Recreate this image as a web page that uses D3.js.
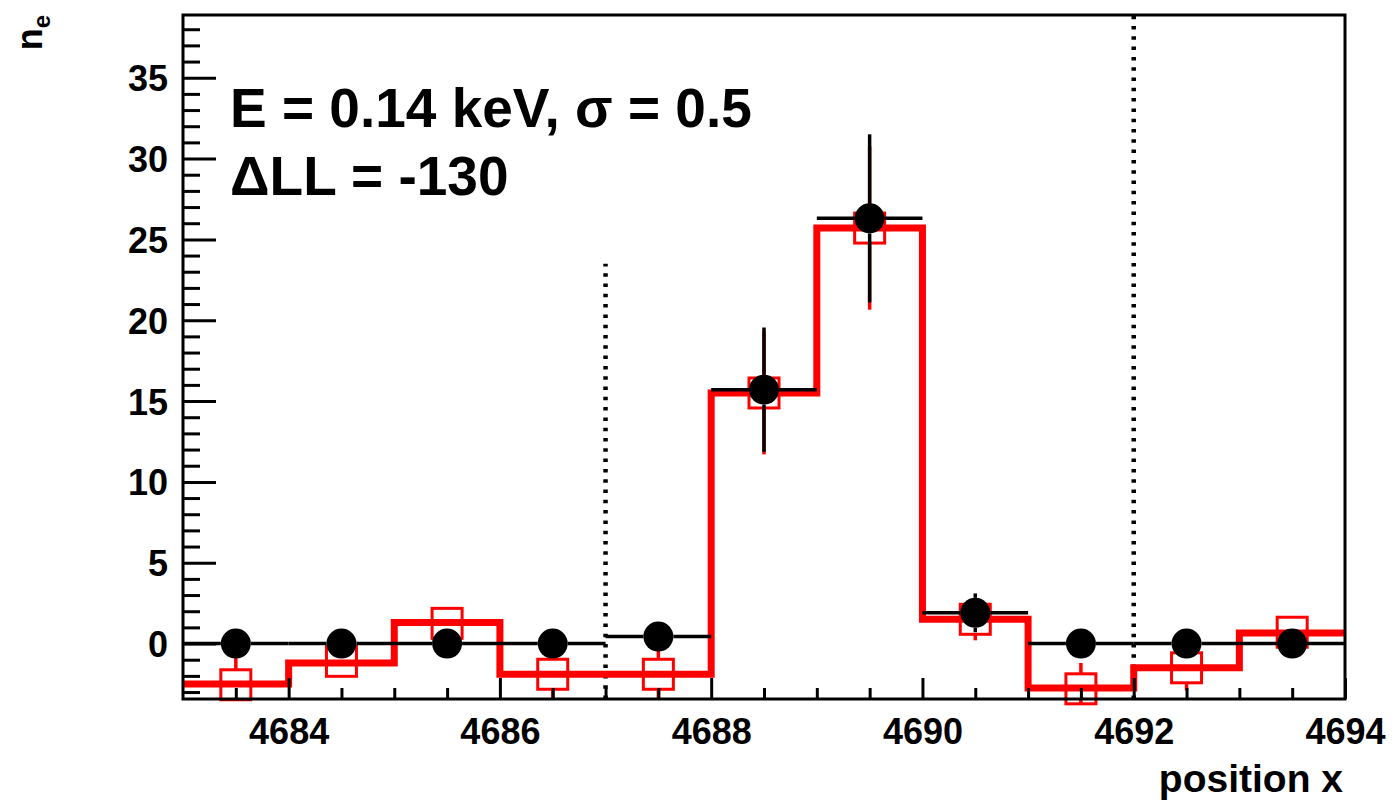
<!DOCTYPE html>
<html>
<head>
<meta charset="utf-8">
<script src="https://cdn.jsdelivr.net/npm/d3@7"></script>
<style>
  html, body { margin: 0; padding: 0; background: #fff; }
  svg { display: block; }
  text { font-family: "Liberation Sans", Arial, Helvetica, sans-serif; font-weight: bold; fill: #000; }
</style>
</head>
<body>
<svg id="chart" width="1394" height="802"></svg>
<script>
// ---------- data ----------
const binStart     = [4683, 4684, 4685, 4686, 4687, 4688, 4689, 4690, 4691, 4692, 4693];
const binWidth     = 1;
const dataValues   = [0, 0, 0, 0, 0.43, 15.7, 26.3, 1.9, 0, 0, 0];
const dataErrors   = [0, 0, 0, 0, 0, 3.85, 5.2, 1.2, 0, 0, 0];
const modelHist    = [-2.5, -1.2, 1.3, -1.9, -1.9, 15.5, 25.7, 1.5, -2.75, -1.5, 0.65];
const modelPoints  = [-2.55, -1.1, 1.25, -1.9, -1.9, 15.5, 25.7, 1.5, -2.8, -1.5, 0.7];
const modelErrors  = [1.65, 0.9, 0.9, 1.6, 1.6, 3.8, 5.05, 1.3, 1.6, 1.4, 0.9];
const xMajorTicks  = [4684, 4686, 4688, 4690, 4692, 4694];
const yMajorTicks  = [0, 5, 10, 15, 20, 25, 30, 35];
const dottedX      = [4687, 4692];
const dottedTop    = [23.5, 38.88];
const xDomain      = [4683, 4694];
const yDomain      = [-3.43, 38.88];
const annotation   = ["E = 0.14 keV, σ = 0.5", "ΔLL = -130"];

// ---------- layout ----------
const L = 183, T = 15, R = 1345, B = 699;
const svg = d3.select("#chart");
svg.append("rect").attr("width", 1394).attr("height", 802).attr("fill", "#fff");

const x = d3.scaleLinear().domain(xDomain).range([L, R]);
const y = d3.scaleLinear().domain(yDomain).range([B, T]);

svg.append("defs").append("clipPath").attr("id", "frameClip")
  .append("rect").attr("x", L).attr("y", T).attr("width", R - L).attr("height", B - T);

const plot = svg.append("g");

// ---------- dotted vertical lines ----------
plot.selectAll("line.dot").data(dottedX).join("line")
  .attr("class", "dot")
  .attr("x1", d => x(d)).attr("x2", d => x(d))
  .attr("y1", B).attr("y2", (d, i) => y(dottedTop[i]))
  .attr("stroke", "#000").attr("stroke-width", 4.5)
  .attr("stroke-dasharray", "3.5,6.8");

// ---------- red model histogram ----------
const histPts = binStart.map((b, i) => [b, modelHist[i]]);
histPts.push([binStart[binStart.length - 1] + binWidth, modelHist[modelHist.length - 1]]);
plot.append("path")
  .attr("clip-path", "url(#frameClip)")
  .attr("d", d3.line().x(d => x(d[0])).y(d => y(d[1])).curve(d3.curveStepAfter)(histPts))
  .attr("fill", "none").attr("stroke", "#ff0000").attr("stroke-width", 7)
  .attr("stroke-linejoin", "miter");

// ---------- red open squares with error bars ----------
const sq = 30, sh = sq / 2;
const redG = plot.append("g");
binStart.forEach((b, i) => {
  const cx = x(b + binWidth / 2), cy = y(modelPoints[i]);
  const top = y(modelPoints[i] + modelErrors[i]);
  const bot = y(modelPoints[i] - modelErrors[i]);
  if (cy - sh > top) redG.append("line").attr("x1", cx).attr("x2", cx).attr("y1", cy - sh).attr("y2", Math.max(top, T))
    .attr("stroke", "#ff0000").attr("stroke-width", 3.5);
  if (bot > cy + sh) redG.append("line").attr("x1", cx).attr("x2", cx).attr("y1", cy + sh).attr("y2", Math.min(bot, B))
    .attr("stroke", "#ff0000").attr("stroke-width", 3.5);
  redG.append("rect").attr("x", cx - sh).attr("y", cy - sh).attr("width", sq).attr("height", sq)
    .attr("fill", "none").attr("stroke", "#ff0000").attr("stroke-width", 3);
});

// ---------- black data points with error bars ----------
const r = 15;
const blkG = plot.append("g");
binStart.forEach((b, i) => {
  const cx = x(b + binWidth / 2), cy = y(dataValues[i]);
  blkG.append("line").attr("x1", x(b)).attr("x2", cx - r).attr("y1", cy).attr("y2", cy)
    .attr("stroke", "#000").attr("stroke-width", 3.5);
  blkG.append("line").attr("x1", cx + r).attr("x2", x(b + binWidth)).attr("y1", cy).attr("y2", cy)
    .attr("stroke", "#000").attr("stroke-width", 3.5);
  const top = y(dataValues[i] + dataErrors[i]);
  const bot = y(dataValues[i] - dataErrors[i]);
  if (cy - r > top) blkG.append("line").attr("x1", cx).attr("x2", cx).attr("y1", cy - r).attr("y2", top)
    .attr("stroke", "#000").attr("stroke-width", 3.5);
  if (bot > cy + r) blkG.append("line").attr("x1", cx).attr("x2", cx).attr("y1", cy + r).attr("y2", bot)
    .attr("stroke", "#000").attr("stroke-width", 3.5);
  blkG.append("circle").attr("cx", cx).attr("cy", cy).attr("r", r).attr("fill", "#000");
});

// ---------- axes ----------
function styleAxis(g) {
  g.select(".domain").remove();
  g.selectAll(".tick line").attr("stroke", "#000").attr("stroke-width", 3);
  g.selectAll(".tick text").style("font-family", "'Liberation Sans', Arial, sans-serif")
    .style("font-weight", "bold").attr("fill", "#000");
}
const xMinor = d3.range(xDomain[0] + 0.5, xDomain[1], 0.5).filter(v => !xMajorTicks.includes(v));
svg.append("g").attr("transform", `translate(0,${B})`)
  .call(d3.axisBottom(x).tickValues(xMinor).tickSize(-11).tickFormat(""))
  .call(styleAxis);
svg.append("g").attr("transform", `translate(0,${B})`)
  .call(d3.axisBottom(x).tickValues(xMajorTicks).tickSize(-21).tickPadding(19).tickFormat(d3.format("d")))
  .call(styleAxis)
  .call(g => g.selectAll(".tick text").attr("font-size", 36).style("font-size", "36px"));

const yMinor = d3.range(-3, 39, 1).filter(v => !yMajorTicks.includes(v));
svg.append("g").attr("transform", `translate(${L},0)`)
  .call(d3.axisLeft(y).tickValues(yMinor).tickSize(-17).tickFormat(""))
  .call(styleAxis);
svg.append("g").attr("transform", `translate(${L},0)`)
  .call(d3.axisLeft(y).tickValues(yMajorTicks).tickSize(-33).tickPadding(15).tickFormat(d3.format("d")))
  .call(styleAxis)
  .call(g => g.selectAll(".tick text").attr("font-size", 36).style("font-size", "36px").attr("dy", "0.36em"));

// frame
svg.append("rect").attr("x", L).attr("y", T).attr("width", R - L).attr("height", B - T)
  .attr("fill", "none").attr("stroke", "#000").attr("stroke-width", 3);

// ---------- titles ----------
svg.append("text").attr("x", R - 2).attr("y", 792).attr("text-anchor", "end")
  .style("font-size", "39px").text("position x");

const yt = svg.append("text").attr("transform", "translate(42,15) rotate(-90)")
  .attr("text-anchor", "end").style("font-size", "36px");
yt.append("tspan").text("n");
yt.append("tspan").attr("dy", 8).style("font-size", "24px").text("e");

// ---------- annotation ----------
svg.selectAll("text.ann").data(annotation).join("text")
  .attr("class", "ann")
  .attr("x", 230).attr("y", (d, i) => 127 + i * 68)
  .style("font-size", "55px")
  .text(d => d);
</script>
</body>
</html>
